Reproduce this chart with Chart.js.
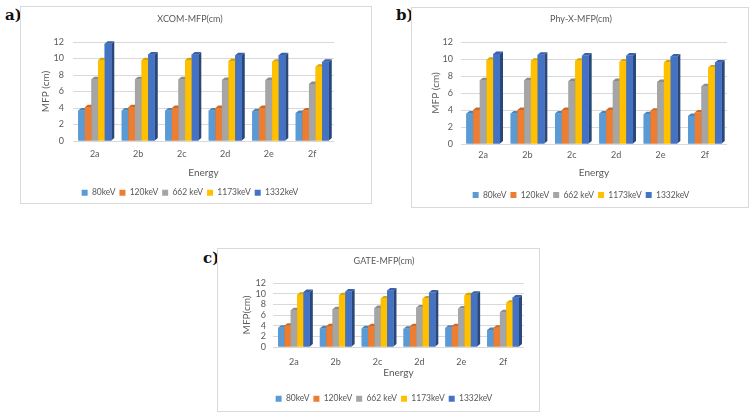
<!DOCTYPE html>
<html>
<head>
<meta charset="utf-8">
<script src="https://cdn.jsdelivr.net/npm/chart.js@4.4.1/dist/chart.umd.min.js"></script>
<style>
  html, body { margin: 0; padding: 0; background: #fff; }
  body { width: 756px; height: 419px; position: relative; overflow: hidden; }
  .panel { position: absolute; border: 1px solid #d9d9d9; box-sizing: border-box; background: #fff; }
  .panel canvas { position: absolute; left: -1px; top: -1px; }
  .tag { position: absolute; font: bold 15px 'DejaVu Serif', 'Liberation Serif', serif; color: #111; line-height: 1; }
</style>
</head>
<body>
<div class="tag" style="left:5px;top:8px">a)</div>
<div class="tag" style="left:396px;top:8px">b)</div>
<div class="tag" style="left:203px;top:251px">c)</div>

<div class="panel" style="left:20px;top:6px;width:352px;height:198px"><canvas id="chart-a" width="352" height="198"></canvas></div>
<div class="panel" style="left:411px;top:7px;width:338px;height:201px"><canvas id="chart-b" width="338" height="201"></canvas></div>
<div class="panel" style="left:217px;top:248px;width:323px;height:164px"><canvas id="chart-c" width="323" height="164"></canvas></div>

<script>
const categories = ['2a', '2b', '2c', '2d', '2e', '2f'];
const seriesLabels = ['80keV', '120keV', '662 keV', '1173keV', '1332keV'];
const seriesColors = ['#5b9bd5', '#ed7d31', '#a5a5a5', '#ffc000', '#4472c4'];
const yTicks = [0, 2, 4, 6, 8, 10, 12];

// one row per energy, one value per sample 2a..2f
const xcomMfp = [
  [3.7, 3.7, 3.7, 3.7, 3.6, 3.4],
  [4.1, 4.1, 4.0, 4.0, 4.0, 3.7],
  [7.5, 7.5, 7.5, 7.4, 7.4, 6.9],
  [9.8, 9.8, 9.8, 9.7, 9.6, 9.0],
  [11.8, 10.5, 10.5, 10.4, 10.4, 9.6]
];
const phyxMfp = [
  [3.6, 3.6, 3.6, 3.6, 3.5, 3.3],
  [4.0, 4.0, 4.0, 4.0, 3.9, 3.7],
  [7.5, 7.5, 7.4, 7.4, 7.3, 6.8],
  [9.9, 9.8, 9.8, 9.7, 9.6, 9.0],
  [10.6, 10.5, 10.4, 10.4, 10.3, 9.6]
];
const gateMfp = [
  [3.6, 3.5, 3.5, 3.4, 3.6, 3.2],
  [4.0, 3.9, 3.9, 3.9, 3.9, 3.6],
  [6.9, 7.1, 7.3, 7.4, 7.2, 6.5],
  [9.8, 9.7, 9.1, 9.1, 9.7, 8.3],
  [10.3, 10.4, 10.6, 10.2, 10.0, 9.3]
];

const FONT = "Lato, 'Open Sans', sans-serif";
const TEXT = '#595959';

function shade(hex, f) {
  const n = parseInt(hex.slice(1), 16);
  const r = Math.round(((n >> 16) & 255) * f);
  const g = Math.round(((n >> 8) & 255) * f);
  const b = Math.round((n & 255) * f);
  return `rgb(${Math.min(r, 255)},${Math.min(g, 255)},${Math.min(b, 255)})`;
}

// fake the Excel 3D columns: side + top face, drawn bar by bar left to right
const bars3d = {
  id: 'bars3d',
  afterDatasetsDraw(chart, args, opts) {
    const ctx = chart.ctx;
    const dx = opts.dx, dy = opts.dy;
    const metas = chart.data.datasets.map((d, i) => chart.getDatasetMeta(i));
    ctx.save();
    for (let i = 0; i < categories.length; i++) {
      metas.forEach((meta, d) => {
        const bar = meta.data[i];
        if (!bar) return;
        const color = seriesColors[d];
        const l = bar.x - bar.width / 2, r = bar.x + bar.width / 2;
        const t = bar.y, b = bar.base;
        ctx.fillStyle = shade(color, 0.62);
        ctx.beginPath();
        ctx.moveTo(r, t); ctx.lineTo(r + dx, t - dy); ctx.lineTo(r + dx, b - dy); ctx.lineTo(r, b);
        ctx.closePath(); ctx.fill();
        ctx.fillStyle = shade(color, 0.85);
        ctx.beginPath();
        ctx.moveTo(l, t); ctx.lineTo(r, t); ctx.lineTo(r + dx, t - dy); ctx.lineTo(l + dx, t - dy);
        ctx.closePath(); ctx.fill();
        ctx.fillStyle = color;
        ctx.fillRect(l, t, r - l, b - t);
      });
    }
    ctx.restore();
  }
};

function makeChart(id, title, yTitle, values, lay) {
  const datasets = seriesLabels.map((label, i) => ({
    label: label,
    data: values[i],
    backgroundColor: seriesColors[i],
    borderWidth: 0,
    categoryPercentage: 0.76,
    barPercentage: 1
  }));

  return new Chart(document.getElementById(id), {
    type: 'bar',
    data: { labels: categories, datasets: datasets },
    plugins: [bars3d],
    options: {
      responsive: false,
      animation: false,
      layout: { padding: { left: lay.left, right: lay.right, top: 0, bottom: lay.bottom } },
      plugins: {
        bars3d: { dx: 3, dy: 2.5 },
        tooltip: { enabled: false },
        title: {
          display: true,
          text: title,
          color: TEXT,
          font: { family: FONT, size: 9, weight: 'normal' },
          padding: { top: lay.titleTop, bottom: lay.titleBottom }
        },
        legend: {
          position: 'bottom',
          labels: {
            color: TEXT,
            font: { family: FONT, size: 8.5 },
            boxWidth: 6,
            boxHeight: 6,
            padding: 4
          }
        }
      },
      scales: {
        x: {
          grid: { display: false },
          border: { display: false },
          ticks: { color: TEXT, font: { family: FONT, size: 9 }, padding: lay.xTickPad },
          title: {
            display: true, text: 'Energy', color: TEXT,
            font: { family: FONT, size: 10 },
            padding: { top: 0, bottom: lay.xTitlePad }
          },
          afterFit(scale) { scale.height = lay.xHeight; }
        },
        y: {
          min: 0,
          max: 12,
          grid: { color: '#d9d9d9', drawTicks: false },
          border: { display: false },
          afterBuildTicks(scale) { scale.ticks = yTicks.map(v => ({ value: v })); },
          ticks: { color: TEXT, font: { family: FONT, size: 9 }, padding: lay.yTickPad, autoSkip: false },
          title: {
            display: true, text: yTitle, color: TEXT,
            font: { family: FONT, size: 10 },
            padding: { top: lay.yTitlePad, bottom: 0 }
          },
          afterFit(scale) { scale.width = lay.yWidth; }
        }
      }
    }
  });
}

makeChart('chart-a', 'XCOM-MFP(cm)', 'MFP (cm)', xcomMfp, {
  left: 26, right: 38, bottom: -3, titleTop: 7.6, titleBottom: 17.6,
  yWidth: 27, yTitlePad: -6, yTickPad: 9,
  xHeight: 43.5, xTickPad: -0.4, xTitlePad: 5.5
});
makeChart('chart-b', 'Phy-X-MFP(cm)', 'MFP (cm)', phyxMfp, {
  left: 24, right: 22, bottom: -1.25, titleTop: 6.6, titleBottom: 17.6,
  yWidth: 26, yTitlePad: -5, yTickPad: 8,
  xHeight: 42.75, xTickPad: -2.4, xTitlePad: 7.75
});
makeChart('chart-c', 'GATE-MFP(cm)', 'MFP(cm)', gateMfp, {
  left: 27, right: 16, bottom: -1, titleTop: 7.6, titleBottom: 16.6,
  yWidth: 29, yTitlePad: -3, yTickPad: 7,
  xHeight: 43.5, xTickPad: 1.3, xTitlePad: 11.5
});
</script>
</body>
</html>
